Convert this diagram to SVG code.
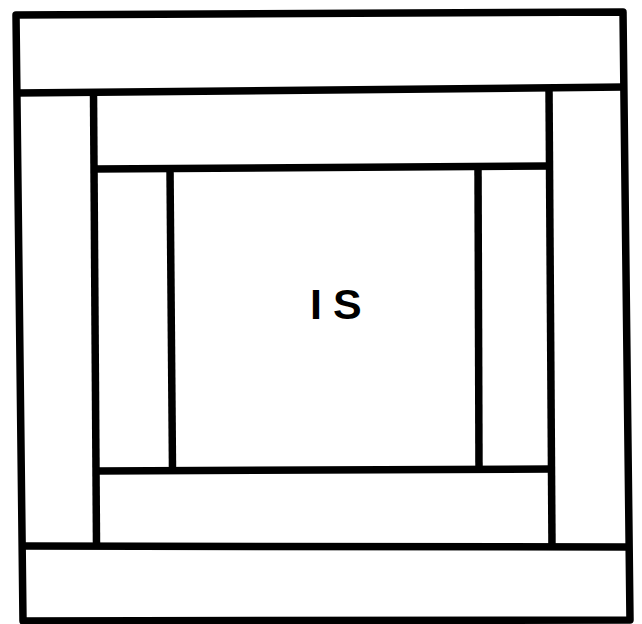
<svg xmlns="http://www.w3.org/2000/svg" width="642" height="624" viewBox="0 0 642 624">
<style>
.ln{fill:none;stroke:#000;stroke-width:7.5;stroke-linecap:butt;stroke-linejoin:round}
.lbl{font-family:"Liberation Sans",Arial,sans-serif;font-weight:bold;font-size:43px;fill:#000}
</style>
<rect width="642" height="624" fill="#fff"/>
<g id="frame">
<polygon class="ln" points="16,15 623,12 630,620 23,621"/>
</g>
<g id="lines">
<line class="ln" x1="17" y1="93" x2="624" y2="87"/>
<line class="ln" x1="23" y1="546" x2="629" y2="547"/>
<line class="ln" x1="93.5" y1="93" x2="96.5" y2="546"/>
<line class="ln" x1="549" y1="88" x2="552" y2="547"/>
<line class="ln" x1="94" y1="169" x2="549" y2="166"/>
<line class="ln" x1="96" y1="471" x2="552" y2="469"/>
<line class="ln" x1="170" y1="169" x2="172.5" y2="470"/>
<line class="ln" x1="478" y1="166" x2="479" y2="469"/>
</g>
<g id="center">
<text class="lbl" x="310" y="319" letter-spacing="11">IS</text>
</g>
</svg>
